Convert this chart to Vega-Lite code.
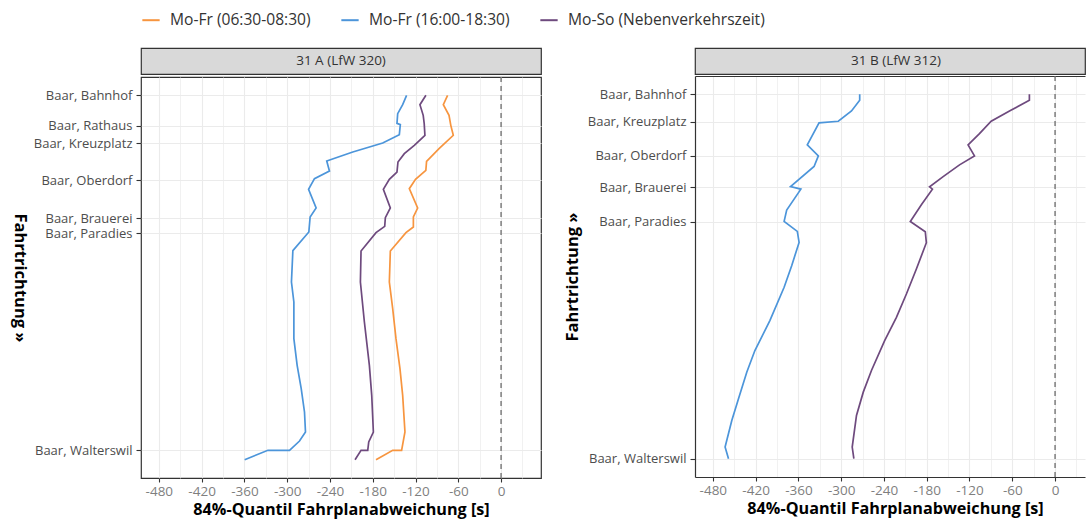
{
  "$schema": "https://vega.github.io/schema/vega-lite/v6.json",
  "background": "white",
  "padding": {"left": 10, "top": 10, "right": 0, "bottom": 2},
  "config": {
    "font": "Open Sans",
    "view": {"stroke": null},
    "axis": {"labelFont": "Open Sans", "titleFont": "Open Sans"},
    "legend": {"labelFont": "Open Sans"}
  },
  "data": {
    "values": [
      {"linie": "31 A (LfW 320)", "zeit": "Mo-Fr (06:30-08:30)", "i": 1, "pos": 0, "abw": -75},
      {"linie": "31 A (LfW 320)", "zeit": "Mo-Fr (06:30-08:30)", "i": 2, "pos": 28, "abw": -81},
      {"linie": "31 A (LfW 320)", "zeit": "Mo-Fr (06:30-08:30)", "i": 3, "pos": 60, "abw": -73},
      {"linie": "31 A (LfW 320)", "zeit": "Mo-Fr (06:30-08:30)", "i": 4, "pos": 90, "abw": -70.5},
      {"linie": "31 A (LfW 320)", "zeit": "Mo-Fr (06:30-08:30)", "i": 5, "pos": 120, "abw": -67},
      {"linie": "31 A (LfW 320)", "zeit": "Mo-Fr (06:30-08:30)", "i": 6, "pos": 160, "abw": -87},
      {"linie": "31 A (LfW 320)", "zeit": "Mo-Fr (06:30-08:30)", "i": 7, "pos": 198, "abw": -104.5},
      {"linie": "31 A (LfW 320)", "zeit": "Mo-Fr (06:30-08:30)", "i": 8, "pos": 225, "abw": -105.5},
      {"linie": "31 A (LfW 320)", "zeit": "Mo-Fr (06:30-08:30)", "i": 9, "pos": 252, "abw": -120},
      {"linie": "31 A (LfW 320)", "zeit": "Mo-Fr (06:30-08:30)", "i": 10, "pos": 280, "abw": -128.7},
      {"linie": "31 A (LfW 320)", "zeit": "Mo-Fr (06:30-08:30)", "i": 11, "pos": 338, "abw": -117},
      {"linie": "31 A (LfW 320)", "zeit": "Mo-Fr (06:30-08:30)", "i": 12, "pos": 365, "abw": -123},
      {"linie": "31 A (LfW 320)", "zeit": "Mo-Fr (06:30-08:30)", "i": 13, "pos": 395, "abw": -123},
      {"linie": "31 A (LfW 320)", "zeit": "Mo-Fr (06:30-08:30)", "i": 14, "pos": 412, "abw": -133.4},
      {"linie": "31 A (LfW 320)", "zeit": "Mo-Fr (06:30-08:30)", "i": 15, "pos": 467, "abw": -155.3},
      {"linie": "31 A (LfW 320)", "zeit": "Mo-Fr (06:30-08:30)", "i": 16, "pos": 560, "abw": -156.7},
      {"linie": "31 A (LfW 320)", "zeit": "Mo-Fr (06:30-08:30)", "i": 17, "pos": 640, "abw": -152},
      {"linie": "31 A (LfW 320)", "zeit": "Mo-Fr (06:30-08:30)", "i": 18, "pos": 730, "abw": -147.4},
      {"linie": "31 A (LfW 320)", "zeit": "Mo-Fr (06:30-08:30)", "i": 19, "pos": 820, "abw": -141.8},
      {"linie": "31 A (LfW 320)", "zeit": "Mo-Fr (06:30-08:30)", "i": 20, "pos": 900, "abw": -138},
      {"linie": "31 A (LfW 320)", "zeit": "Mo-Fr (06:30-08:30)", "i": 21, "pos": 1010, "abw": -134.8},
      {"linie": "31 A (LfW 320)", "zeit": "Mo-Fr (06:30-08:30)", "i": 22, "pos": 1065, "abw": -139.5},
      {"linie": "31 A (LfW 320)", "zeit": "Mo-Fr (06:30-08:30)", "i": 23, "pos": 1065, "abw": -152},
      {"linie": "31 A (LfW 320)", "zeit": "Mo-Fr (06:30-08:30)", "i": 24, "pos": 1093, "abw": -175.4},

      {"linie": "31 A (LfW 320)", "zeit": "Mo-Fr (16:00-18:30)", "i": 1, "pos": 0, "abw": -132.5},
      {"linie": "31 A (LfW 320)", "zeit": "Mo-Fr (16:00-18:30)", "i": 2, "pos": 28, "abw": -138},
      {"linie": "31 A (LfW 320)", "zeit": "Mo-Fr (16:00-18:30)", "i": 3, "pos": 55, "abw": -145},
      {"linie": "31 A (LfW 320)", "zeit": "Mo-Fr (16:00-18:30)", "i": 4, "pos": 84, "abw": -146},
      {"linie": "31 A (LfW 320)", "zeit": "Mo-Fr (16:00-18:30)", "i": 5, "pos": 88, "abw": -141.3},
      {"linie": "31 A (LfW 320)", "zeit": "Mo-Fr (16:00-18:30)", "i": 6, "pos": 118, "abw": -142.7},
      {"linie": "31 A (LfW 320)", "zeit": "Mo-Fr (16:00-18:30)", "i": 7, "pos": 143, "abw": -166},
      {"linie": "31 A (LfW 320)", "zeit": "Mo-Fr (16:00-18:30)", "i": 8, "pos": 170, "abw": -208},
      {"linie": "31 A (LfW 320)", "zeit": "Mo-Fr (16:00-18:30)", "i": 9, "pos": 197, "abw": -244.5},
      {"linie": "31 A (LfW 320)", "zeit": "Mo-Fr (16:00-18:30)", "i": 10, "pos": 227, "abw": -240.7},
      {"linie": "31 A (LfW 320)", "zeit": "Mo-Fr (16:00-18:30)", "i": 11, "pos": 250, "abw": -261.7},
      {"linie": "31 A (LfW 320)", "zeit": "Mo-Fr (16:00-18:30)", "i": 12, "pos": 282, "abw": -270},
      {"linie": "31 A (LfW 320)", "zeit": "Mo-Fr (16:00-18:30)", "i": 13, "pos": 338, "abw": -259.4},
      {"linie": "31 A (LfW 320)", "zeit": "Mo-Fr (16:00-18:30)", "i": 14, "pos": 365, "abw": -267.8},
      {"linie": "31 A (LfW 320)", "zeit": "Mo-Fr (16:00-18:30)", "i": 15, "pos": 410, "abw": -269.6},
      {"linie": "31 A (LfW 320)", "zeit": "Mo-Fr (16:00-18:30)", "i": 16, "pos": 466, "abw": -292},
      {"linie": "31 A (LfW 320)", "zeit": "Mo-Fr (16:00-18:30)", "i": 17, "pos": 560, "abw": -294},
      {"linie": "31 A (LfW 320)", "zeit": "Mo-Fr (16:00-18:30)", "i": 18, "pos": 620, "abw": -290.6},
      {"linie": "31 A (LfW 320)", "zeit": "Mo-Fr (16:00-18:30)", "i": 19, "pos": 730, "abw": -290.6},
      {"linie": "31 A (LfW 320)", "zeit": "Mo-Fr (16:00-18:30)", "i": 20, "pos": 810, "abw": -286},
      {"linie": "31 A (LfW 320)", "zeit": "Mo-Fr (16:00-18:30)", "i": 21, "pos": 880, "abw": -280.3},
      {"linie": "31 A (LfW 320)", "zeit": "Mo-Fr (16:00-18:30)", "i": 22, "pos": 950, "abw": -275.7},
      {"linie": "31 A (LfW 320)", "zeit": "Mo-Fr (16:00-18:30)", "i": 23, "pos": 1010, "abw": -274.3},
      {"linie": "31 A (LfW 320)", "zeit": "Mo-Fr (16:00-18:30)", "i": 24, "pos": 1037, "abw": -282.7},
      {"linie": "31 A (LfW 320)", "zeit": "Mo-Fr (16:00-18:30)", "i": 25, "pos": 1065, "abw": -296.7},
      {"linie": "31 A (LfW 320)", "zeit": "Mo-Fr (16:00-18:30)", "i": 26, "pos": 1065, "abw": -327},
      {"linie": "31 A (LfW 320)", "zeit": "Mo-Fr (16:00-18:30)", "i": 27, "pos": 1093, "abw": -359.6},

      {"linie": "31 A (LfW 320)", "zeit": "Mo-So (Nebenverkehrszeit)", "i": 1, "pos": 0, "abw": -105.4},
      {"linie": "31 A (LfW 320)", "zeit": "Mo-So (Nebenverkehrszeit)", "i": 2, "pos": 28, "abw": -113.8},
      {"linie": "31 A (LfW 320)", "zeit": "Mo-So (Nebenverkehrszeit)", "i": 3, "pos": 60, "abw": -109.2},
      {"linie": "31 A (LfW 320)", "zeit": "Mo-So (Nebenverkehrszeit)", "i": 4, "pos": 85, "abw": -107.8},
      {"linie": "31 A (LfW 320)", "zeit": "Mo-So (Nebenverkehrszeit)", "i": 5, "pos": 120, "abw": -106.8},
      {"linie": "31 A (LfW 320)", "zeit": "Mo-So (Nebenverkehrszeit)", "i": 6, "pos": 150, "abw": -121.7},
      {"linie": "31 A (LfW 320)", "zeit": "Mo-So (Nebenverkehrszeit)", "i": 7, "pos": 175, "abw": -135.7},
      {"linie": "31 A (LfW 320)", "zeit": "Mo-So (Nebenverkehrszeit)", "i": 8, "pos": 200, "abw": -144.6},
      {"linie": "31 A (LfW 320)", "zeit": "Mo-So (Nebenverkehrszeit)", "i": 9, "pos": 230, "abw": -146},
      {"linie": "31 A (LfW 320)", "zeit": "Mo-So (Nebenverkehrszeit)", "i": 10, "pos": 252, "abw": -156.7},
      {"linie": "31 A (LfW 320)", "zeit": "Mo-So (Nebenverkehrszeit)", "i": 11, "pos": 282, "abw": -165.1},
      {"linie": "31 A (LfW 320)", "zeit": "Mo-So (Nebenverkehrszeit)", "i": 12, "pos": 338, "abw": -155.3},
      {"linie": "31 A (LfW 320)", "zeit": "Mo-So (Nebenverkehrszeit)", "i": 13, "pos": 367, "abw": -162.3},
      {"linie": "31 A (LfW 320)", "zeit": "Mo-So (Nebenverkehrszeit)", "i": 14, "pos": 393, "abw": -163.2},
      {"linie": "31 A (LfW 320)", "zeit": "Mo-So (Nebenverkehrszeit)", "i": 15, "pos": 412, "abw": -175.4},
      {"linie": "31 A (LfW 320)", "zeit": "Mo-So (Nebenverkehrszeit)", "i": 16, "pos": 467, "abw": -196.4},
      {"linie": "31 A (LfW 320)", "zeit": "Mo-So (Nebenverkehrszeit)", "i": 17, "pos": 560, "abw": -197.3},
      {"linie": "31 A (LfW 320)", "zeit": "Mo-So (Nebenverkehrszeit)", "i": 18, "pos": 680, "abw": -191.7},
      {"linie": "31 A (LfW 320)", "zeit": "Mo-So (Nebenverkehrszeit)", "i": 19, "pos": 810, "abw": -184.7},
      {"linie": "31 A (LfW 320)", "zeit": "Mo-So (Nebenverkehrszeit)", "i": 20, "pos": 900, "abw": -181.4},
      {"linie": "31 A (LfW 320)", "zeit": "Mo-So (Nebenverkehrszeit)", "i": 21, "pos": 1010, "abw": -179.1},
      {"linie": "31 A (LfW 320)", "zeit": "Mo-So (Nebenverkehrszeit)", "i": 22, "pos": 1040, "abw": -185.6},
      {"linie": "31 A (LfW 320)", "zeit": "Mo-So (Nebenverkehrszeit)", "i": 23, "pos": 1065, "abw": -187},
      {"linie": "31 A (LfW 320)", "zeit": "Mo-So (Nebenverkehrszeit)", "i": 24, "pos": 1065, "abw": -196.4},
      {"linie": "31 A (LfW 320)", "zeit": "Mo-So (Nebenverkehrszeit)", "i": 25, "pos": 1093, "abw": -204.8},

      {"linie": "31 B (LfW 312)", "zeit": "Mo-Fr (16:00-18:30)", "i": 1, "pos": 0, "abw": -274},
      {"linie": "31 B (LfW 312)", "zeit": "Mo-Fr (16:00-18:30)", "i": 2, "pos": 18, "abw": -274},
      {"linie": "31 B (LfW 312)", "zeit": "Mo-Fr (16:00-18:30)", "i": 3, "pos": 50, "abw": -285.5},
      {"linie": "31 B (LfW 312)", "zeit": "Mo-Fr (16:00-18:30)", "i": 4, "pos": 81, "abw": -304},
      {"linie": "31 B (LfW 312)", "zeit": "Mo-Fr (16:00-18:30)", "i": 5, "pos": 86, "abw": -331},
      {"linie": "31 B (LfW 312)", "zeit": "Mo-Fr (16:00-18:30)", "i": 6, "pos": 152, "abw": -347.5},
      {"linie": "31 B (LfW 312)", "zeit": "Mo-Fr (16:00-18:30)", "i": 7, "pos": 185, "abw": -332},
      {"linie": "31 B (LfW 312)", "zeit": "Mo-Fr (16:00-18:30)", "i": 8, "pos": 217, "abw": -338},
      {"linie": "31 B (LfW 312)", "zeit": "Mo-Fr (16:00-18:30)", "i": 9, "pos": 277, "abw": -371},
      {"linie": "31 B (LfW 312)", "zeit": "Mo-Fr (16:00-18:30)", "i": 10, "pos": 285, "abw": -356.5},
      {"linie": "31 B (LfW 312)", "zeit": "Mo-Fr (16:00-18:30)", "i": 11, "pos": 348, "abw": -376.4},
      {"linie": "31 B (LfW 312)", "zeit": "Mo-Fr (16:00-18:30)", "i": 12, "pos": 382, "abw": -380},
      {"linie": "31 B (LfW 312)", "zeit": "Mo-Fr (16:00-18:30)", "i": 13, "pos": 412, "abw": -361.5},
      {"linie": "31 B (LfW 312)", "zeit": "Mo-Fr (16:00-18:30)", "i": 14, "pos": 445, "abw": -359},
      {"linie": "31 B (LfW 312)", "zeit": "Mo-Fr (16:00-18:30)", "i": 15, "pos": 515, "abw": -369.4},
      {"linie": "31 B (LfW 312)", "zeit": "Mo-Fr (16:00-18:30)", "i": 16, "pos": 580, "abw": -380},
      {"linie": "31 B (LfW 312)", "zeit": "Mo-Fr (16:00-18:30)", "i": 17, "pos": 680, "abw": -400},
      {"linie": "31 B (LfW 312)", "zeit": "Mo-Fr (16:00-18:30)", "i": 18, "pos": 770, "abw": -421},
      {"linie": "31 B (LfW 312)", "zeit": "Mo-Fr (16:00-18:30)", "i": 19, "pos": 835, "abw": -432.4},
      {"linie": "31 B (LfW 312)", "zeit": "Mo-Fr (16:00-18:30)", "i": 20, "pos": 915, "abw": -444},
      {"linie": "31 B (LfW 312)", "zeit": "Mo-Fr (16:00-18:30)", "i": 21, "pos": 980, "abw": -453.4},
      {"linie": "31 B (LfW 312)", "zeit": "Mo-Fr (16:00-18:30)", "i": 22, "pos": 1060, "abw": -462.8},
      {"linie": "31 B (LfW 312)", "zeit": "Mo-Fr (16:00-18:30)", "i": 23, "pos": 1095, "abw": -458},

      {"linie": "31 B (LfW 312)", "zeit": "Mo-So (Nebenverkehrszeit)", "i": 1, "pos": 0, "abw": -36},
      {"linie": "31 B (LfW 312)", "zeit": "Mo-So (Nebenverkehrszeit)", "i": 2, "pos": 18, "abw": -36},
      {"linie": "31 B (LfW 312)", "zeit": "Mo-So (Nebenverkehrszeit)", "i": 3, "pos": 48, "abw": -62},
      {"linie": "31 B (LfW 312)", "zeit": "Mo-So (Nebenverkehrszeit)", "i": 4, "pos": 81, "abw": -89.6},
      {"linie": "31 B (LfW 312)", "zeit": "Mo-So (Nebenverkehrszeit)", "i": 5, "pos": 118, "abw": -106},
      {"linie": "31 B (LfW 312)", "zeit": "Mo-So (Nebenverkehrszeit)", "i": 6, "pos": 152, "abw": -122},
      {"linie": "31 B (LfW 312)", "zeit": "Mo-So (Nebenverkehrszeit)", "i": 7, "pos": 185, "abw": -113},
      {"linie": "31 B (LfW 312)", "zeit": "Mo-So (Nebenverkehrszeit)", "i": 8, "pos": 212, "abw": -134},
      {"linie": "31 B (LfW 312)", "zeit": "Mo-So (Nebenverkehrszeit)", "i": 9, "pos": 246, "abw": -156},
      {"linie": "31 B (LfW 312)", "zeit": "Mo-So (Nebenverkehrszeit)", "i": 10, "pos": 278, "abw": -176},
      {"linie": "31 B (LfW 312)", "zeit": "Mo-So (Nebenverkehrszeit)", "i": 11, "pos": 285, "abw": -172},
      {"linie": "31 B (LfW 312)", "zeit": "Mo-So (Nebenverkehrszeit)", "i": 12, "pos": 332, "abw": -187.5},
      {"linie": "31 B (LfW 312)", "zeit": "Mo-So (Nebenverkehrszeit)", "i": 13, "pos": 382, "abw": -203},
      {"linie": "31 B (LfW 312)", "zeit": "Mo-So (Nebenverkehrszeit)", "i": 14, "pos": 413, "abw": -182},
      {"linie": "31 B (LfW 312)", "zeit": "Mo-So (Nebenverkehrszeit)", "i": 15, "pos": 446, "abw": -180.5},
      {"linie": "31 B (LfW 312)", "zeit": "Mo-So (Nebenverkehrszeit)", "i": 16, "pos": 525, "abw": -194.5},
      {"linie": "31 B (LfW 312)", "zeit": "Mo-So (Nebenverkehrszeit)", "i": 17, "pos": 600, "abw": -208.5},
      {"linie": "31 B (LfW 312)", "zeit": "Mo-So (Nebenverkehrszeit)", "i": 18, "pos": 670, "abw": -222.5},
      {"linie": "31 B (LfW 312)", "zeit": "Mo-So (Nebenverkehrszeit)", "i": 19, "pos": 740, "abw": -239},
      {"linie": "31 B (LfW 312)", "zeit": "Mo-So (Nebenverkehrszeit)", "i": 20, "pos": 830, "abw": -257.5},
      {"linie": "31 B (LfW 312)", "zeit": "Mo-So (Nebenverkehrszeit)", "i": 21, "pos": 895, "abw": -269},
      {"linie": "31 B (LfW 312)", "zeit": "Mo-So (Nebenverkehrszeit)", "i": 22, "pos": 965, "abw": -278.5},
      {"linie": "31 B (LfW 312)", "zeit": "Mo-So (Nebenverkehrszeit)", "i": 23, "pos": 1060, "abw": -284.5},
      {"linie": "31 B (LfW 312)", "zeit": "Mo-So (Nebenverkehrszeit)", "i": 24, "pos": 1095, "abw": -282.2}
    ]
  },
  "spacing": 22,
  "hconcat": [
    {
      "spacing": 0,
      "vconcat": [
        {
          "width": 400,
          "height": 26,
          "data": {"values": [{"linie": "31 A (LfW 320)"}]},
          "view": {"fill": "#d9d9d9", "stroke": "#333333", "strokeWidth": 1.2},
          "mark": {"type": "text", "fontSize": 13.5, "color": "#333333", "font": "Open Sans"},
          "encoding": {"text": {"field": "linie"}}
        },
        {
          "width": 400,
          "height": 401,
          "view": {"stroke": "#333333", "strokeWidth": 1.2},
          "resolve": {"axis": {"x": "independent"}},
          "layer": [
            {
              "data": {"values": [{"ref": 0}]},
              "mark": {"type": "rule", "strokeDash": [5, 4], "color": "#6b6b6b", "strokeWidth": 1.3},
              "encoding": {
                "x": {
                  "field": "ref", "type": "quantitative",
                  "scale": {"domain": [-505, 56], "nice": false, "zero": false},
                  "axis": {"orient": "top", "values": [-450, -390, -330, -270, -210, -150, -90, -30, 30], "grid": true, "gridColor": "#ebebeb", "gridWidth": 0.7, "labels": false, "ticks": false, "domain": false, "title": null, "minExtent": 0, "offset": 0}
                }
              }
            },
            {
              "transform": [{"filter": "datum.linie == '31 A (LfW 320)'"}],
              "mark": {"type": "line", "strokeWidth": 1.7},
              "encoding": {
                "x": {
                  "field": "abw", "type": "quantitative",
                  "scale": {"domain": [-505, 56], "nice": false, "zero": false},
                  "axis": {
                    "orient": "bottom",
                    "values": [-480, -420, -360, -300, -240, -180, -120, -60, 0],
                    "labelExpr": "'' + datum.value",
                    "grid": true, "gridColor": "#ebebeb", "gridWidth": 1.1,
                    "domain": false, "tickColor": "#333333", "tickSize": 4, "tickWidth": 1.1,
                    "labelColor": "#7f7f7f", "labelFontSize": 13.5, "labelPadding": 2, "labelOverlap": false,
                    "title": "84%-Quantil Fahrplanabweichung [s]", "titleFontSize": 16.2, "titleFontWeight": "bold",
                    "titleColor": "#000000", "titlePadding": 4
                  }
                },
                "y": {
                  "field": "pos",
                  "type": "quantitative",
                  "scale": {"domain": [-55, 1148], "reverse": true, "nice": false, "zero": false},
                  "axis": {
                    "values": [0, 91, 143, 254, 368, 413, 1065],
                    "labelExpr": "datum.value == 0 ? 'Baar, Bahnhof' : datum.value == 91 ? 'Baar, Rathaus' : datum.value == 143 ? 'Baar, Kreuzplatz' : datum.value == 254 ? 'Baar, Oberdorf' : datum.value == 368 ? 'Baar, Brauerei' : datum.value == 413 ? 'Baar, Paradies' : 'Baar, Walterswil'",
                    "grid": true, "gridColor": "#ebebeb", "gridWidth": 1.1,
                    "domain": false, "tickColor": "#333333", "tickSize": 5, "tickWidth": 1.1,
                    "labelColor": "#4d4d4d", "labelFontSize": 13, "labelPadding": 4, "labelOverlap": false,
                    "title": "Fahrtrichtung »", "titleAngle": 90, "titleBaseline": "top", "titleFontSize": 16.5, "titleFontWeight": "bold",
                    "titleColor": "#000000", "titlePadding": 6
                  }
                },
                "color": {
                  "field": "zeit", "type": "nominal",
                  "scale": {"domain": ["Mo-Fr (06:30-08:30)", "Mo-Fr (16:00-18:30)", "Mo-So (Nebenverkehrszeit)"], "range": ["#F7953F", "#4C95DA", "#6E4A7E"]},
                  "legend": {"orient": "top", "title": null, "symbolType": "stroke", "symbolStrokeWidth": 2, "symbolSize": 300, "labelFontSize": 15.6, "labelColor": "#333333", "labelLimit": 400, "columnPadding": 26, "labelOffset": 9}
                },
                "order": {"field": "i", "type": "quantitative"}
              }
            }
          ]
        }
      ]
    },
    {
      "spacing": 0,
      "vconcat": [
        {
          "width": 390,
          "height": 26,
          "data": {"values": [{"linie": "31 B (LfW 312)"}]},
          "view": {"fill": "#d9d9d9", "stroke": "#333333", "strokeWidth": 1.2},
          "mark": {"type": "text", "fontSize": 13.5, "color": "#333333", "font": "Open Sans", "dx": 6},
          "encoding": {"text": {"field": "linie"}}
        },
        {
          "width": 390,
          "height": 401,
          "view": {"stroke": null},
          "resolve": {"axis": {"x": "independent"}},
          "layer": [
            {
              "data": {"values": [{"ref": 0}]},
              "mark": {"type": "rule", "strokeDash": [5, 4], "color": "#6b6b6b", "strokeWidth": 1.3},
              "encoding": {
                "x": {
                  "field": "ref", "type": "quantitative",
                  "scale": {"domain": [-505, 42], "nice": false, "zero": false},
                  "axis": {"orient": "top", "values": [-450, -390, -330, -270, -210, -150, -90, -30, 30], "grid": true, "gridColor": "#ebebeb", "gridWidth": 0.7, "labels": false, "ticks": false, "domain": true, "domainColor": "#333333", "domainWidth": 1.2, "title": null, "minExtent": 0, "offset": 0}
                }
              }
            },
            {
              "transform": [{"filter": "datum.linie == '31 B (LfW 312)'"}],
              "mark": {"type": "line", "strokeWidth": 1.7},
              "encoding": {
                "x": {
                  "field": "abw", "type": "quantitative",
                  "scale": {"domain": [-505, 42], "nice": false, "zero": false},
                  "axis": {
                    "orient": "bottom",
                    "values": [-480, -420, -360, -300, -240, -180, -120, -60, 0],
                    "labelExpr": "'' + datum.value",
                    "grid": true, "gridColor": "#ebebeb", "gridWidth": 1.1,
                    "domain": true, "domainColor": "#333333", "domainWidth": 1.2,
                    "tickColor": "#333333", "tickSize": 4, "tickWidth": 1.1,
                    "labelColor": "#7f7f7f", "labelFontSize": 13.5, "labelPadding": 2, "labelOverlap": false,
                    "title": "84%-Quantil Fahrplanabweichung [s]", "titleFontSize": 16.2, "titleFontWeight": "bold",
                    "titleColor": "#000000", "titlePadding": 4, "titleX": 200
                  }
                },
                "y": {
                  "field": "pos",
                  "type": "quantitative",
                  "scale": {"domain": [-55, 1150], "reverse": true, "nice": false, "zero": false},
                  "axis": {
                    "values": [0, 83, 185, 280, 383, 1095],
                    "labelExpr": "datum.value == 0 ? 'Baar, Bahnhof' : datum.value == 83 ? 'Baar, Kreuzplatz' : datum.value == 185 ? 'Baar, Oberdorf' : datum.value == 280 ? 'Baar, Brauerei' : datum.value == 383 ? 'Baar, Paradies' : 'Baar, Walterswil'",
                    "grid": true, "gridColor": "#ebebeb", "gridWidth": 1.1,
                    "domain": true, "domainColor": "#333333", "domainWidth": 1.2,
                    "tickColor": "#333333", "tickSize": 5, "tickWidth": 1.1,
                    "labelColor": "#4d4d4d", "labelFontSize": 13, "labelPadding": 4, "labelOverlap": false,
                    "title": "Fahrtrichtung »", "titleFontSize": 16.5, "titleFontWeight": "bold",
                    "titleColor": "#000000", "titlePadding": 7
                  }
                },
                "color": {
                  "field": "zeit", "type": "nominal",
                  "scale": {"domain": ["Mo-Fr (06:30-08:30)", "Mo-Fr (16:00-18:30)", "Mo-So (Nebenverkehrszeit)"], "range": ["#F7953F", "#4C95DA", "#6E4A7E"]},
                  "legend": {"orient": "top", "title": null, "symbolType": "stroke", "symbolStrokeWidth": 2, "symbolSize": 300, "labelFontSize": 15.6, "labelColor": "#333333", "labelLimit": 400, "columnPadding": 26, "labelOffset": 9}
                },
                "order": {"field": "i", "type": "quantitative"}
              }
            }
          ]
        }
      ]
    }
  ]
}
